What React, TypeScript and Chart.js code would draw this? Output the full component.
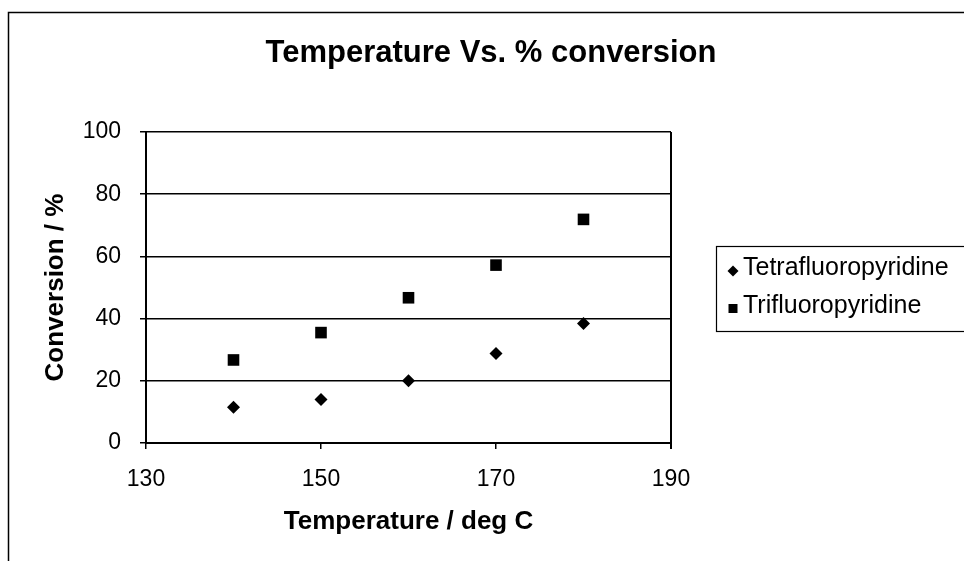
import React, { useEffect, useRef } from "react";
import { Chart, registerables } from "chart.js";

Chart.register(...registerables);

const chartTitle = "Temperature Vs. % conversion";
const xAxisTitle = "Temperature / deg C";
const yAxisTitle = "Conversion / %";
const temperatures = [140, 150, 160, 170, 180];
const tetrafluoroValues = [11.5, 14.0, 20.0, 28.8, 38.4];
const trifluoroValues = [26.7, 35.5, 46.7, 57.2, 71.9];
const seriesNames = ["Tetrafluoropyridine", "Trifluoropyridine"];
const seriesStyles = ["rectRot", "rect"];
const xMin = 130, xMax = 190, xStep = 20;
const yMin = 0, yMax = 100, yStep = 20;

const FONT = "'Liberation Sans', Arial, sans-serif";

const decorPlugin = {
  id: "decor",
  afterDraw(chart: any) {
    const { ctx, chartArea } = chart;
    ctx.save();
    // outer frame (left & top edges visible)
    ctx.strokeStyle = "#000";
    ctx.lineWidth = 1.5;
    ctx.beginPath();
    ctx.moveTo(8.5, 561);
    ctx.lineTo(8.5, 12.5);
    ctx.lineTo(964, 12.5);
    ctx.stroke();
    // plot area right border
    ctx.lineWidth = 2;
    ctx.beginPath();
    ctx.moveTo(chartArea.right, chartArea.top);
    ctx.lineTo(chartArea.right, chartArea.bottom + 6);
    ctx.stroke();
    // title
    ctx.fillStyle = "#000";
    ctx.font = `bold 31px ${FONT}`;
    ctx.textAlign = "center";
    ctx.textBaseline = "middle";
    ctx.fillText(chartTitle, 491, 53);
    // legend box
    ctx.lineWidth = 1.2;
    ctx.strokeRect(716.5, 246.5, 260, 85);
    const rows = [268, 306];
    chart.data.datasets.forEach((ds: any, i: number) => {
      const y = rows[i];
      ctx.fillStyle = "#000";
      ctx.beginPath();
      if (ds.pointStyle === "rectRot") {
        const r = 5.5;
        const cy = y + 3;
        ctx.moveTo(733 - r, cy);
        ctx.lineTo(733, cy - r);
        ctx.lineTo(733 + r, cy);
        ctx.lineTo(733, cy + r);
        ctx.closePath();
      } else {
        ctx.rect(728.5, y - 2, 9, 9);
      }
      ctx.fill();
      ctx.font = `25px ${FONT}`;
      ctx.textAlign = "left";
      ctx.textBaseline = "middle";
      ctx.fillText(ds.label, 743, y);
    });
    ctx.restore();
  },
};

export default function App() {
  const ref = useRef<HTMLCanvasElement | null>(null);
  useEffect(() => {
    if (!ref.current) return;
    const datasets = [tetrafluoroValues, trifluoroValues].map((vals, i) => ({
      label: seriesNames[i],
      data: temperatures.map((t, j) => ({ x: t, y: vals[j] })),
      pointStyle: seriesStyles[i],
      pointRadius: i === 0 ? 6.5 : 8.2,
      backgroundColor: "#000",
      borderColor: "#000",
      borderWidth: 0,
      showLine: false,
    }));
    const chart = new Chart(ref.current, {
      type: "scatter",
      data: { datasets },
      options: {
        animation: false,
        responsive: false,
        maintainAspectRatio: false,
        layout: { padding: { left: 0, top: 132, right: 293, bottom: 0 } },
        plugins: {
          legend: { display: false },
          title: { display: false },
          tooltip: { enabled: false },
        },
        scales: {
          x: {
            type: "linear",
            min: xMin,
            max: xMax,
            afterFit: (s: any) => {
              s.height = 118;
            },
            ticks: {
              stepSize: xStep,
              color: "#000",
              font: { family: FONT, size: 23 },
              padding: 17,
              maxRotation: 0,
            },
            grid: {
              display: true,
              drawOnChartArea: false,
              drawTicks: true,
              tickLength: 6,
              color: "#000",
              lineWidth: 1.5,
            },
            border: { display: true, color: "#000", width: 2 },
            title: {
              display: true,
              text: xAxisTitle,
              color: "#000",
              font: { family: FONT, size: 26, weight: "bold" },
              padding: { top: 0, bottom: 24 },
            },
          },
          y: {
            type: "linear",
            min: yMin,
            max: yMax,
            afterFit: (s: any) => {
              s.width = 146;
            },
            ticks: {
              stepSize: yStep,
              color: "#000",
              font: { family: FONT, size: 23 },
              padding: 19,
            },
            grid: {
              display: true,
              drawOnChartArea: true,
              drawTicks: true,
              tickLength: 6,
              color: "#000",
              lineWidth: 1.5,
            },
            border: { display: true, color: "#000", width: 2 },
            title: {
              display: true,
              text: yAxisTitle,
              color: "#000",
              font: { family: FONT, size: 26, weight: "bold" },
              padding: { top: 40, bottom: 0 },
            },
          },
        },
      },
      plugins: [decorPlugin],
    });
    return () => chart.destroy();
  }, []);
  return (
    <div style={{ position: "fixed", left: 0, top: 0, width: 964, height: 561, background: "#fff" }}>
      <canvas ref={ref} width={964} height={561} style={{ display: "block", width: 964, height: 561 }} />
    </div>
  );
}
